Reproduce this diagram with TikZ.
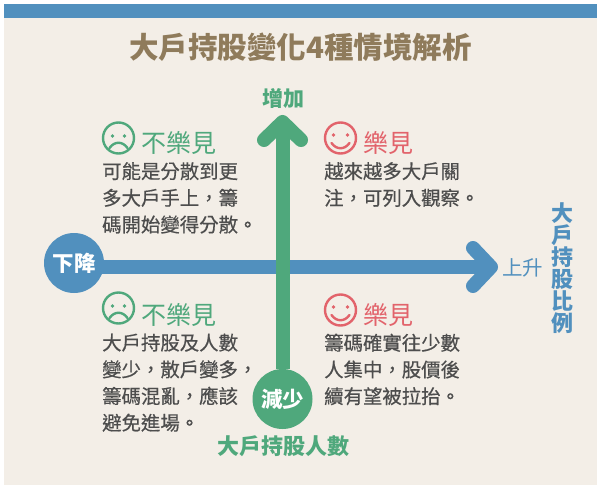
\documentclass[tikz,border=0pt]{standalone}
\usepackage{fontspec}
\usepackage{xcolor}
\setmainfont{Noto Sans CJK TC}
\newfontfamily\bodyfont[FakeBold=0.5]{Noto Sans CJK TC}
\definecolor{band-blue}{HTML}{5190BE}
\definecolor{panel-bg}{HTML}{F3EEE7}
\definecolor{mood-green}{HTML}{4FA87C}
\definecolor{mood-red}{HTML}{E2636B}
\definecolor{title-brown}{HTML}{8F7B5B}
\definecolor{body-gray}{HTML}{4D4D4D}
\tikzset{
	bodytext/.style={anchor=north west, inner sep=0pt, align=left, text=body-gray, font=\bodyfont\fontsize{19.4}{26.7}\selectfont},
	moodtext/.style={anchor=west, inner sep=0pt, font=\fontsize{25}{25}\selectfont},
	endcircle/.style={circle, fill=#1, minimum size=60pt, inner sep=0pt, text=white, font=\bfseries\fontsize{21.5}{21.5}\selectfont},
	axisline/.style={line width=14pt, #1},
	axishead/.style={line width=14pt, line cap=round, line join=round, #1},
	sadface/.pic={
		\draw[mood-green, line width=2.4pt] (0,0) circle (15.5);
		\fill[mood-green] (-6,-2) circle (1.8) (6,-2) circle (1.8);
		\draw[mood-green, line width=2.4pt, line cap=round] (-9,10) .. controls (-4,3) and (4,3) .. (9,10);
	},
	happyface/.pic={
		\draw[mood-red, line width=2.4pt] (0,0) circle (15.5);
		\fill[mood-red] (-7,-3) circle (1.8) (7,-3) circle (1.8);
		\draw[mood-red, line width=2.4pt, line cap=round] (-9,5) .. controls (-4,12) and (4,12) .. (9,5);
	}
}
\begin{document}
\begin{tikzpicture}[x=1pt, y=-1pt]
	\useasboundingbox (0,0) rectangle (605,490);

	% Draw the panel and the top band
	\fill[panel-bg] (4,4) rectangle (597,485);
	\fill[band-blue] (4,4) rectangle (597,18);

	% Draw the title
	\node (title) [text=title-brown, font=\bfseries\fontsize{29.5}{29.5}\selectfont] at (300.5,47) {大戶持股變化4種情境解析};

	% Draw the horizontal axis
	\node (down) [endcircle=band-blue] at (74,263) {下降};
	\coordinate (rightTip) at (491,267);
	\coordinate (rightTop) at (473,248);
	\coordinate (rightBottom) at (473,286);
	\draw[axisline=band-blue] ([xshift=-5pt]down.east |- rightTip) -- (rightTip);
	\draw[axishead=band-blue] (rightTop) -- (rightTip) -- (rightBottom);

	% Draw the vertical axis
	\node (less) [endcircle=mood-green] at (282.5,399) {減少};
	\coordinate (upTip) at (282.5,122);
	\coordinate (upLeft) at (264,140);
	\coordinate (upRight) at (301,140);
	\draw[axisline=mood-green] (less) -- (upTip);
	\draw[axishead=mood-green] (upLeft) -- (upTip) -- (upRight);

	% Axis labels
	\node (more) [text=mood-green, font=\bfseries\fontsize{21}{21}\selectfont] at (283,98) {增加};
	\node (up) [text=band-blue, font=\fontsize{20.5}{20.5}\selectfont] at (522.5,268) {上升};
	\node (holders) [text=mood-green, font=\bfseries\fontsize{22}{22}\selectfont] at (283.5,446) {大戶持股人數};
	\node (ratio) [anchor=north, inner sep=0pt, align=center, text=band-blue, font=\bfseries\fontsize{22}{22}\selectfont] at (562,202) {大\\戶\\持\\股\\比\\例};

	% Top left case
	\pic at (118.5,138) {sadface};
	\node (moodA) [moodtext, text=mood-green] at (141.5,142.5) {不樂見};
	\node (caseA) [bodytext] at (102,162) {可能是分散到更\\多大戶手上，籌\\碼開始變得分散。};

	% Top right case
	\pic at (340.5,138) {happyface};
	\node (moodB) [moodtext, text=mood-red] at (363.5,142.5) {樂見};
	\node (caseB) [bodytext] at (324,162) {越來越多大戶關\\注，可列入觀察。};

	% Bottom left case
	\pic at (118.5,308) {sadface};
	\node (moodC) [moodtext, text=mood-green] at (141.5,314.5) {不樂見};
	\node (caseC) [bodytext] at (102,333.5) {大戶持股及人數\\變少，散戶變多，\\籌碼混亂，應該\\避免進場。};

	% Bottom right case
	\pic at (340.5,310) {happyface};
	\node (moodD) [moodtext, text=mood-red] at (363.5,314.5) {樂見};
	\node (caseD) [bodytext] at (324,333.5) {籌碼確實往少數\\人集中，股價後\\續有望被拉抬。};
\end{tikzpicture}
\end{document}
